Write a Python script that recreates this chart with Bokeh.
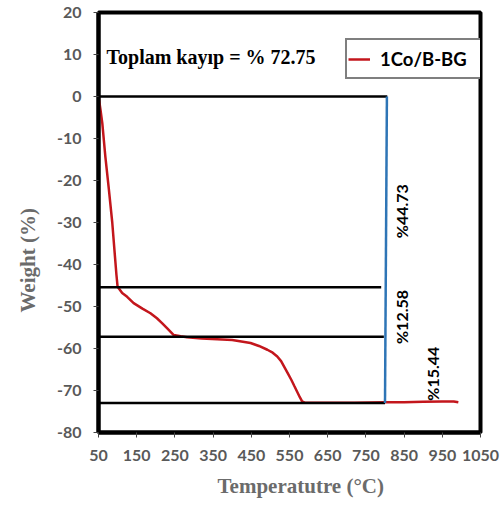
from bokeh.plotting import figure
from bokeh.models import Range1d, FixedTicker, Label, Legend, LegendItem, Title
from bokeh.embed import file_html
from bokeh.resources import INLINE

# --- data ---
temperature = [50, 55, 60, 68, 77, 86, 93, 97, 100, 112, 125, 142, 165, 186, 203, 217, 230, 247,
               265, 282, 320, 361, 400, 448, 470, 492, 506, 518, 528, 537, 546, 555, 563, 570,
               577, 583, 590, 650, 720, 800, 850, 900, 950, 980, 992]
weight = [0, -3.0, -6.4, -14.4, -22.0, -30.0, -38.0, -42.5, -45.3, -46.8, -47.7, -49.2, -50.5,
          -51.6, -52.8, -54.0, -55.2, -56.8, -57.1, -57.3, -57.6, -57.8, -58.0, -58.7, -59.4,
          -60.3, -61.0, -61.9, -63.0, -64.5, -66.0, -67.5, -69.0, -70.3, -71.6, -72.6, -72.9,
          -72.9, -72.9, -72.8, -72.8, -72.7, -72.6, -72.6, -72.8]
series_name = "1Co/B-BG"

step_levels = [0, -45.4, -57.2, -73.0]
step_ends = [806, 790, 797, 800]
vline_x = [805, 800]
vline_y = [0, -73.0]

x_ticks = [50, 150, 250, 350, 450, 550, 650, 750, 850, 950, 1050]
y_ticks = [-80, -70, -60, -50, -40, -30, -20, -10, 0, 10, 20]

total_text = "Toplam kayıp = % 72.75"
step_labels = ["%44.73", "%12.58", "%15.44"]
step_label_x = [843, 843, 924]
step_label_y = [-27.3, -52.5, -66.0]

x_title = "Temperatutre  (°C)"
y_title = "Weight  (%)"

# --- figure ---
p = figure(width=502, height=506, output_backend="svg", toolbar_location=None,
           x_range=Range1d(50, 1050), y_range=Range1d(-80, 20),
           min_border_left=98, min_border_right=22, min_border_top=12, min_border_bottom=73)
p.grid.visible = False
p.background_fill_color = "white"
p.border_fill_color = "white"
p.outline_line_color = "black"
p.outline_line_width = 4

for ax, ticks in ((p.xaxis, x_ticks), (p.yaxis, y_ticks)):
    ax.ticker = FixedTicker(ticks=ticks)
    ax.major_label_overrides = {t: str(t) for t in ticks}
    ax.axis_line_color = "black"
    ax.axis_line_width = 4
    ax.major_tick_out = 5
    ax.major_tick_in = 0
    ax.major_tick_line_color = "#444444"
    ax.major_tick_line_width = 1
    ax.minor_tick_line_color = None
    ax.major_label_text_font = "Lato"
    ax.major_label_text_font_style = "bold"
    ax.major_label_text_font_size = "16px"
    ax.major_label_text_color = "#595959"
p.xaxis.major_label_standoff = 12
p.yaxis.major_label_standoff = 12

# curve
r = p.line(temperature, weight, line_color="#C3161C", line_width=2.5)

# step lines
for lvl, end in zip(step_levels, step_ends):
    p.line([50, end], [lvl, lvl], line_color="black", line_width=2.5)
p.line(vline_x, vline_y, line_color="#2E75B6", line_width=2.5)

legend = Legend(items=[LegendItem(label=series_name, renderers=[r])],
                location=(247, 353), orientation="vertical")
legend.border_line_color = "black"
legend.border_line_width = 2
legend.background_fill_color = "white"
legend.background_fill_alpha = 1
legend.label_text_font = "Lato"
legend.label_text_font_style = "bold"
legend.label_text_font_size = "18.5px"
legend.label_text_color = "black"
legend.glyph_width = 22
legend.label_standoff = 10
legend.label_width = 103
legend.label_height = 35
legend.padding = 1
legend.margin = 0
p.add_layout(legend, "center")

p.add_layout(Label(x=71, y=9.3, text=total_text, text_font="Liberation Serif",
                   text_font_style="bold", text_font_size="20px", text_color="black",
                   text_baseline="middle", text_align="left"))

for t, lx, ly in zip(step_labels, step_label_x, step_label_y):
    p.add_layout(Label(x=lx, y=ly, text=t, angle=90, angle_units="deg",
                       text_font="Lato", text_font_style="bold", text_font_size="16px",
                       text_color="black", text_align="center", text_baseline="middle"))

xt = Title(text=x_title, align="left", offset=119, standoff=17,
           text_font="Liberation Serif", text_font_style="bold", text_font_size="21px",
           text_color="#6b6b6b")
p.add_layout(xt, "below")
yt = Title(text=y_title, align="left", offset=120, standoff=27,
           text_font="Liberation Serif", text_font_style="bold", text_font_size="21px",
           text_color="#6b6b6b")
p.add_layout(yt, "left")

open("out.html", "w").write(file_html(p, INLINE))
